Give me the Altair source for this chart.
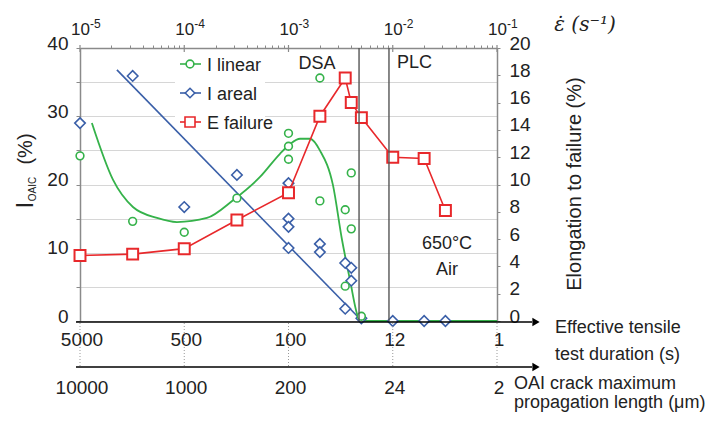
import altair as alt
import pandas as pd

FONT = "Liberation Sans, Arial, sans-serif"
GREEN = "#35b24a"
BLUE = "#3a5fa8"
RED = "#e8282b"
FRAME = "#8a8a8a"

# ---------------- data ----------------
# strain rate (1/s) of the tests
e_rate = [1e-5, 3.2e-5, 1e-4, 3.2e-4, 1e-3, 2e-3, 3.5e-3, 4e-3, 5e-3, 1e-2, 2e-2, 3.2e-2]
e_failure = [4.8, 4.9, 5.3, 7.4, 9.4, 15.0, 17.8, 16.0, 14.9, 12.0, 11.9, 8.1]

lin_rate = [1e-5, 3.2e-5, 1e-4, 3.2e-4, 1e-3, 1e-3, 1e-3, 2e-3, 2e-3,
            3.5e-3, 3.5e-3, 4e-3, 4e-3, 5e-3]
lin_val = [24.2, 14.6, 13.0, 18.0, 27.5, 25.6, 23.7, 35.6, 17.6,
           16.3, 5.1, 21.7, 13.5, 0.7]

areal_rate = [1e-5, 3.2e-5, 1e-4, 3.2e-4, 1e-3, 1e-3, 1e-3, 1e-3, 2e-3, 2e-3,
              3.5e-3, 3.5e-3, 4e-3, 4e-3, 5e-3, 1e-2, 2e-2, 3.2e-2]
areal_val = [29.0, 35.9, 16.7, 21.4, 20.2, 15.0, 13.8, 10.7, 11.3, 10.1,
             8.5, 1.8, 7.8, 5.9, 0.4, 0.0, 0.0, 0.0]

# fitted trend curves
lin_fit_rate = [1.30e-5, 2.07e-5, 3.22e-5, 5.48e-5, 8.51e-5, 1.65e-4, 2.94e-4,
                5.33e-4, 8.28e-4, 1.03e-3, 1.29e-3, 1.61e-3, 2.0e-3, 2.67e-3,
                3.26e-3, 3.89e-3, 4.65e-3, 5.07e-3, 1e-1]
lin_fit_val = [29.0, 20.7, 16.7, 15.1, 14.5, 15.1, 17.7, 21.1, 24.5, 25.9,
               26.7, 26.7, 25.0, 19.9, 11.9, 6.0, 0.6, 0.0, 0.0]
areal_fit_rate = [2.26e-5, 5.07e-3]
areal_fit_val = [36.8, 0.0]

# regime boundaries DSA | PLC
boundaries = [4.75e-3, 9.2e-3]

# axis labels
decades = [1e-5, 1e-4, 1e-3, 1e-2, 1e-1]
exponents = ["-5", "-4", "-3", "-2", "-1"]
duration_labels = ["5000", "500", "100", "12", "1"]
crack_labels = ["10000", "1000", "200", "24", "2"]

minor_ticks = [k * d for d in decades[:-1] for k in range(2, 10)]

# ---------------- tables ----------------
df_e = pd.DataFrame({"rate": e_rate, "v": e_failure})
df_lin = pd.DataFrame({"rate": lin_rate, "v": lin_val})
df_areal = pd.DataFrame({"rate": areal_rate, "v": areal_val})
df_linfit = pd.DataFrame({"rate": lin_fit_rate, "v": lin_fit_val})
df_arealfit = pd.DataFrame({"rate": areal_fit_rate, "v": areal_fit_val})
df_bound = pd.DataFrame({"rate": boundaries})
df_dec = pd.DataFrame({"rate": decades, "base": ["10"] * 5, "exp": exponents,
                       "dur": duration_labels, "crack": crack_labels})
dummy = pd.DataFrame({"a": [0]})

XSC = alt.Scale(type="log", domain=[1e-5, 1e-1], nice=False)
XAX = alt.Axis(orient="top", values=minor_ticks, labels=False, title=None,
               domainColor=FRAME, domainWidth=1.5, tickColor=FRAME, tickSize=3,
               grid=False)
YSC = alt.Scale(domain=[0, 40], nice=False)
YAX = alt.Axis(values=list(range(0, 41, 5)),
               labelExpr="datum.value % 10 == 0 ? datum.label : ''",
               grid=True, gridColor="#d6d6d6", gridWidth=1,
               domainColor=FRAME, domainWidth=1.5, tickColor=FRAME, tickSize=4,
               labelFont=FONT, labelFontSize=19, labelColor="#222",
               labelPadding=8, labelOffset=-5, title=None)
Y2SC = alt.Scale(domain=[0, 20], nice=False)
Y2AX = alt.Axis(orient="right", values=list(range(0, 21, 2)), grid=False,
                domainColor=FRAME, domainWidth=1.5, tickColor=FRAME, tickSize=3,
                labelFont=FONT, labelFontSize=19, labelColor="#222",
                labelPadding=9, labelOffset=-5, title=None)


def X(field="rate"):
    return alt.X(f"{field}:Q", scale=XSC, axis=XAX)


def Y(field="v"):
    return alt.Y(f"{field}:Q", scale=YSC, axis=YAX)


def Y2(field="v"):
    return alt.Y(f"{field}:Q", scale=Y2SC, axis=Y2AX)


def note(text, x, y, size=18, align="center", angle=0, font=FONT, style="normal",
         color="#222", baseline="middle"):
    return alt.Chart(dummy).mark_text(
        text=text, font=font, fontSize=size, align=align, baseline=baseline,
        angle=angle, fontStyle=style, color=color
    ).encode(x=alt.value(x), y=alt.value(y))


# ---------------- left-scale group ----------------
legend_box = alt.Chart(dummy).mark_rect(color="white").encode(
    x=alt.value(95), x2=alt.value(185), y=alt.value(4), y2=alt.value(86))

areal_fit = alt.Chart(df_arealfit).mark_line(color=BLUE, strokeWidth=1.6).encode(
    x=X(), y=Y())
lin_fit = alt.Chart(df_linfit).mark_line(color=GREEN, strokeWidth=1.8,
                                          interpolate="monotone").encode(x=X(), y=Y())
areal_pts = alt.Chart(df_areal).mark_point(shape="diamond", filled=True, fill="white",
                                           stroke=BLUE, strokeWidth=1.6, size=110,
                                           opacity=1).encode(x=X(), y=Y())
lin_pts = alt.Chart(df_lin).mark_point(shape="circle", filled=True, fill="white",
                                       stroke=GREEN, strokeWidth=1.6, size=60,
                                       opacity=1).encode(x=X(), y=Y())

left = alt.layer(legend_box, areal_fit, lin_fit, areal_pts, lin_pts)

# ---------------- right-scale group ----------------
e_line = alt.Chart(df_e).mark_line(color=RED, strokeWidth=1.6).encode(x=X(), y=Y2())
e_pts = alt.Chart(df_e).mark_point(shape="square", filled=True, fill="white",
                                   stroke=RED, strokeWidth=2, size=120,
                                   opacity=1).encode(x=X(), y=Y2())
right = alt.layer(e_line, e_pts)

# ---------------- decorations ----------------
bounds = alt.Chart(df_bound).mark_rule(color="#555", strokeWidth=1.4).encode(
    x=X(), y=alt.value(0), y2=alt.value(273))
major_ticks = alt.Chart(df_dec).mark_rule(color=FRAME, strokeWidth=1.2).encode(
    x=X(), y=alt.value(-3), y2=alt.value(4))
top_base = alt.Chart(df_dec).mark_text(font=FONT, fontSize=17, align="right",
                                       dx=10, baseline="alphabetic", color="#222").encode(
    x=X(), y=alt.value(-13), text="base:N")
top_exp = alt.Chart(df_dec).mark_text(font=FONT, fontSize=12, align="left",
                                      dx=10, baseline="alphabetic", color="#222").encode(
    x=X(), y=alt.value(-20), text="exp:N")

bottom_line1 = alt.Chart(dummy).mark_rule(color="black", strokeWidth=1.6).encode(
    x=alt.value(-4), x2=alt.value(452), y=alt.value(274))
bottom_line2 = alt.Chart(dummy).mark_rule(color="black", strokeWidth=1.6).encode(
    x=alt.value(-4), x2=alt.value(452), y=alt.value(319))
arrow1 = alt.Chart(dummy).mark_point(
    shape="triangle-right", filled=True, color="black", size=70, opacity=1).encode(
    x=alt.value(456), y=alt.value(274))
arrow2 = alt.Chart(dummy).mark_point(
    shape="triangle-right", filled=True, color="black", size=70, opacity=1).encode(
    x=alt.value(456), y=alt.value(319))
dotted = alt.Chart(df_dec).mark_rule(color="#999", strokeWidth=1, strokeDash=[1, 2]).encode(
    x=X(), y=alt.value(275), y2=alt.value(319))
dur_text = alt.Chart(df_dec).mark_text(font=FONT, fontSize=19, dx=2, color="#222").encode(
    x=X(), y=alt.value(292), text="dur:N")
crack_text = alt.Chart(df_dec).mark_text(font=FONT, fontSize=19, dx=2, color="#222").encode(
    x=X(), y=alt.value(340), text="crack:N")

# legend
leg = []
for i, (lab, col, shp, sz) in enumerate([("I linear", GREEN, "circle", 60),
                                         ("I areal", BLUE, "diamond", 90),
                                         ("E failure", RED, "square", 100)]):
    sy = [16, 45, 74][i]
    leg.append(alt.Chart(dummy).mark_rule(color=col, strokeWidth=1.6).encode(
        x=alt.value(100), x2=alt.value(121), y=alt.value(sy)))
    leg.append(alt.Chart(dummy).mark_point(shape=shp, filled=True, fill="white", stroke=col,
                                           strokeWidth=1.6, size=sz, opacity=1).encode(
        x=alt.value(110), y=alt.value(sy)))
    leg.append(note(lab, 127, sy + 2, size=18, align="left"))

notes = [
    note("DSA", 237, 16, size=18),
    note("PLC", 317, 15, size=18, align="left"),
    note("650°C", 367, 196, size=18),
    note("Air", 367, 222, size=18),
    note("Effective tensile", 475, 280, size=18, align="left"),
    note("test duration (s)", 475, 307, size=18, align="left"),
    note("OAI crack maximum", 434, 336, size=18, align="left"),
    note("propagation length (μm)", 434, 360, size=18, align="left",
         baseline="alphabetic"),
    note("Elongation to failure (%)", 495, 136, size=20, angle=270),
    note("I", -54, 157, size=23, angle=270),
    note("OAIC", -47, 141, size=10, angle=270),
    note("(%)", -54, 101, size=20, angle=270),
    note("ε̇ (s⁻¹)", 505, -23, size=20, font="DejaVu Serif", style="italic"),
]

deco = alt.layer(bounds, major_ticks, top_base, top_exp, dotted, bottom_line1, bottom_line2,
                 arrow1, arrow2, dur_text, crack_text, *leg, *notes)

chart = alt.layer(left, right, deco).resolve_scale(y="independent").properties(
    width=417, height=273,
    autosize=alt.AutoSizeParams(type="none"),
    padding={"left": 72, "top": 40, "right": 219, "bottom": 92},
).configure_view(stroke=None)

chart.save("out.html", embed_options={"renderer": "svg", "actions": False})
